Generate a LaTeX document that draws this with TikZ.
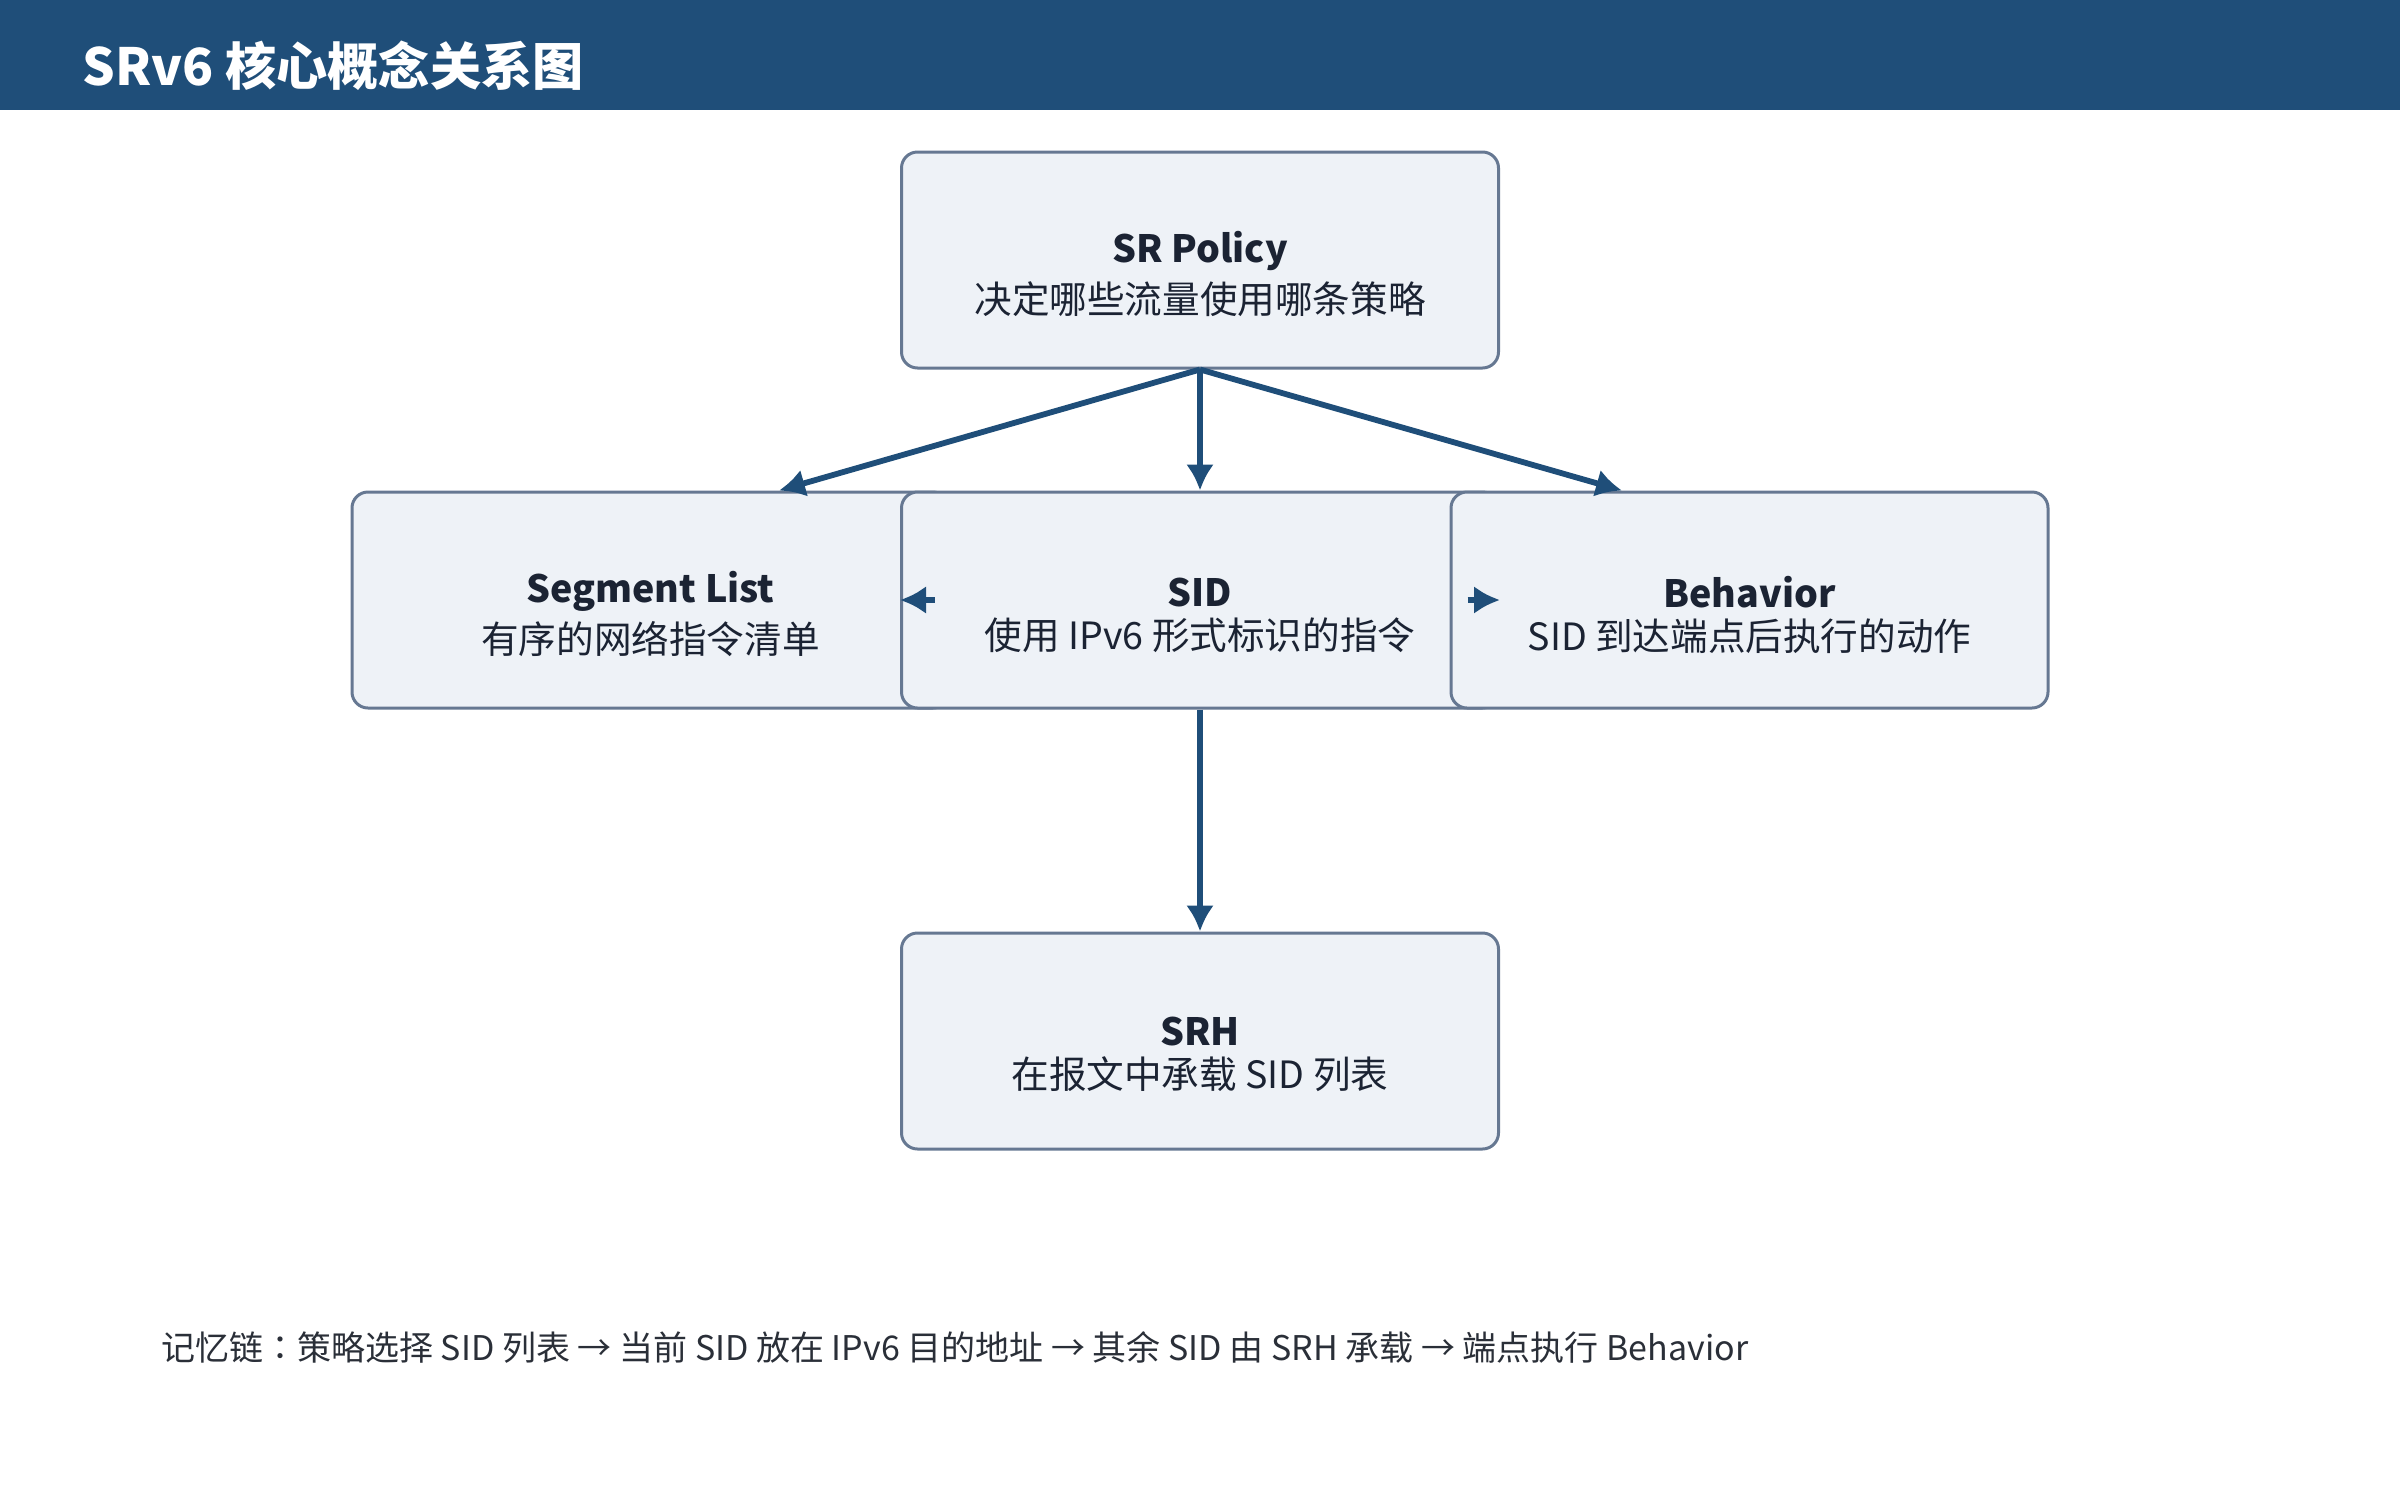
\documentclass[tikz,border=0pt]{standalone}
\usepackage{fontspec}
\setmainfont{Noto Sans CJK SC}
\newfontfamily\tcfont{Noto Sans CJK TC}
\usetikzlibrary{arrows.meta}
\definecolor{barblue}{HTML}{1F4E79}
\definecolor{arrowblue}{HTML}{1F4E79}
\definecolor{boxborder}{HTML}{667892}
\definecolor{boxfill}{HTML}{EEF2F7}
\definecolor{boxtext}{HTML}{1B2333}
\definecolor{foottext}{HTML}{2A2F38}
\tikzset{
  box/.style={draw=boxborder, fill=boxfill, line width=1.5pt, rounded corners=8pt,
    minimum width=298.5pt, minimum height=108pt, inner sep=0pt},
  txt/.style={align=center, text=boxtext, inner sep=0pt,
    font=\fontsize{18.8}{21.5}\selectfont},
  arr/.style={draw=arrowblue, line width=2.9pt, -{Latex[length=13pt,width=14pt]}},
  titletext/.style={text=white, inner sep=0pt, font=\fontsize{25.6}{30}\selectfont\bfseries},
  foot/.style={text=foottext, inner sep=0pt, font=\fontsize{17}{20}\selectfont},
}
\begin{document}
\begin{tikzpicture}[x=0.5pt,y=-0.5pt]
\useasboundingbox (0,0) rectangle (2400,1500);
\fill[barblue] (0,0) rectangle (2400,110);
\node[titletext, anchor=west] (title) at (82,66) {SRv6 核心概念关系图};

% boxes
\node[box] (pol) at (1200,260) {};
\node[box] (seg) at (650.5,600) {};
\node[box] (sid) at (1200,600) {};
\node[box] (beh) at (1749.5,600) {};
\node[box] (srh) at (1200,1041) {};

% texts
\node[txt] (polt) at ([yshift=-7pt]pol.center) {\textbf{SR Policy}\\[4pt]决定哪些流量使用哪条策略};
\node[txt] (segt) at ([yshift=-7pt]seg.center) {\textbf{Segment List}\\[4pt]有序的网络指令清单};
\node[txt] (sidt) at ([yshift=-7.5pt]sid.center) {\textbf{SID}\\使用 IPv6 形式标识的指令};
\node[txt] (beht) at ([yshift=-7.5pt]beh.center) {\textbf{Behavior}\\SID 到达端点后执行的动作};
\node[txt] (srht) at ([yshift=-6.5pt]srh.center) {\textbf{SRH}\\在报文中承载 SID 列表};

% connectors
\draw[arr] (pol.south) -- ([xshift=64.25pt]seg.north);
\draw[arr] (pol.south) -- (sid.north);
\draw[arr] (pol.south) -- ([xshift=-63.75pt]beh.north);
\draw[arr, shorten <=8pt] (seg.east) -- (sid.west);
\draw[arr, shorten <=9pt] (beh.west) -- (sid.east);
\draw[arr] (sid.south) -- (srh.north);

% footer
\node[foot, anchor=west] (foot) at (161,1347) {记忆链{\tcfont ：}策略选择 SID 列表 → 当前 SID 放在 IPv6 目的地址 → 其余 SID 由 SRH 承载 → 端点执行 Behavior};
\end{tikzpicture}
\end{document}
